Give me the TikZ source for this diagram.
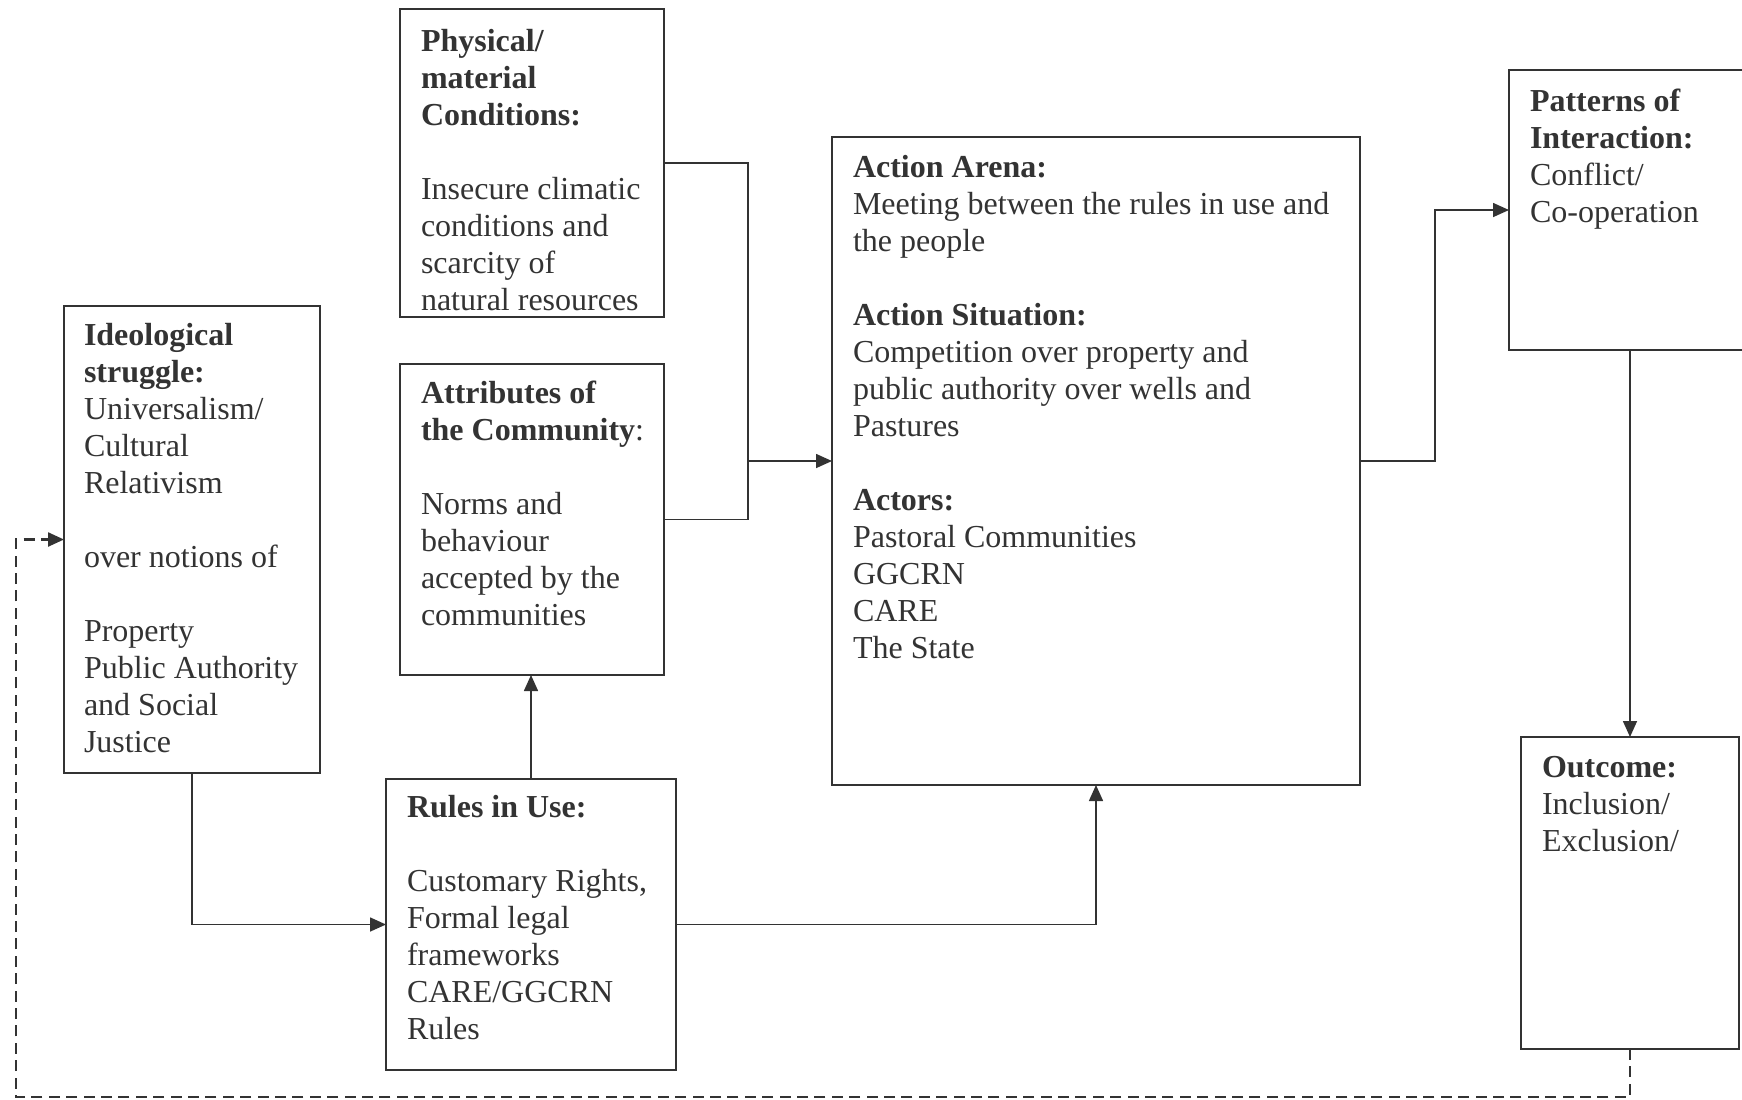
\documentclass[tikz,border=0pt]{standalone}
\usepackage{fontspec}
\setmainfont{Liberation Serif}
\usetikzlibrary{arrows.meta}
\definecolor{ink}{HTML}{333333}
\tikzset{
  box/.style={draw=ink, line width=0.9pt, inner sep=0pt, outer sep=0pt, rectangle},
  txt/.style={anchor=north west, inner sep=0pt, outer sep=0pt, align=left, text=ink, font=\fontsize{16}{18.5}\selectfont},
  conn/.style={draw=ink, line width=0.8pt},
  arr/.style={conn, -{Triangle[length=8pt,width=7pt]}},
  dashline/.style={line width=1.2pt, dash pattern=on 5.5pt off 3.2pt}
}
\begin{document}
\begin{tikzpicture}[x=0.5pt,y=-0.5pt]
\useasboundingbox (0,0) rectangle (1742,1099);
% boxes
\node[box, minimum width=132pt, minimum height=154pt] (phys) at (532,163) {};
\node[box, minimum width=132pt, minimum height=155.5pt] (attr) at (532,519.5) {};
\node[box, minimum width=128pt, minimum height=233.5pt] (ideo) at (192,539.5) {};
\node[box, minimum width=145pt, minimum height=145.5pt] (rules) at (531,924.5) {};
\node[box, minimum width=264pt, minimum height=324pt] (action) at (1096,461) {};
\node[box, minimum width=118pt, minimum height=140pt] (patterns) at (1627,210) {};
\node[box, minimum width=109pt, minimum height=156pt] (outcome) at (1630,893) {};
% texts
\node[txt] (phystext) at (421,25.5) {\strut\textbf{Physical/}\\\textbf{material}\\\textbf{Conditions:}\\[18.5pt]Insecure climatic\\conditions and\\scarcity of\\natural resources};
\node[txt] (attrtext) at (421,377.5) {\strut\textbf{Attributes of}\\\textbf{the Community}:\\[18.5pt]Norms and\\behaviour\\accepted by the\\communities};
\node[txt] (ideotext) at (84,320) {\strut\textbf{Ideological}\\\textbf{struggle:}\\Universalism/\\Cultural\\Relativism\\[18.5pt]over notions of\\[18.5pt]Property\\Public Authority\\and Social\\Justice};
\node[txt] (actiontext) at (853,152) {\strut\textbf{Action Arena:}\\Meeting between the rules in use and\\the people\\[18.5pt]\textbf{Action Situation:}\\Competition over property and\\public authority over wells and\\Pastures\\[18.5pt]\textbf{Actors:}\\Pastoral Communities\\GGCRN\\CARE\\The State};
\node[txt] (patternstext) at (1530,85.5) {\strut\textbf{Patterns of}\\\textbf{Interaction:}\\Conflict/\\Co-operation};
\node[txt] (outcometext) at (1542,752) {\strut\textbf{Outcome:}\\Inclusion/\\Exclusion/};
\node[txt] (rulestext) at (407,792) {\strut\textbf{Rules in Use:}\\[18.5pt]Customary Rights,\\Formal legal\\frameworks\\CARE/GGCRN\\Rules};
% connectors
\coordinate (j1) at (748,461);
\coordinate (j2) at (1435,461);
\coordinate (dl) at (16,1097);
\draw[conn] (phys.east) -| (j1);
\draw[conn] (attr.east) -| (j1);
\draw[arr] (j1) -- (action.west);
\draw[arr] (action.east) -- (j2) |- (patterns.west);
\draw[arr] (outcome.north |- patterns.south) -- (outcome.north);
\draw[arr] (ideo.south) |- (rules.west);
\draw[arr] (rules.east) -| (action.south);
\draw[arr] (rules.north) -- (rules.north |- attr.south);
\draw[arr, dashline] (outcome.south) |- (dl) |- (ideo.west);
\end{tikzpicture}
\end{document}
